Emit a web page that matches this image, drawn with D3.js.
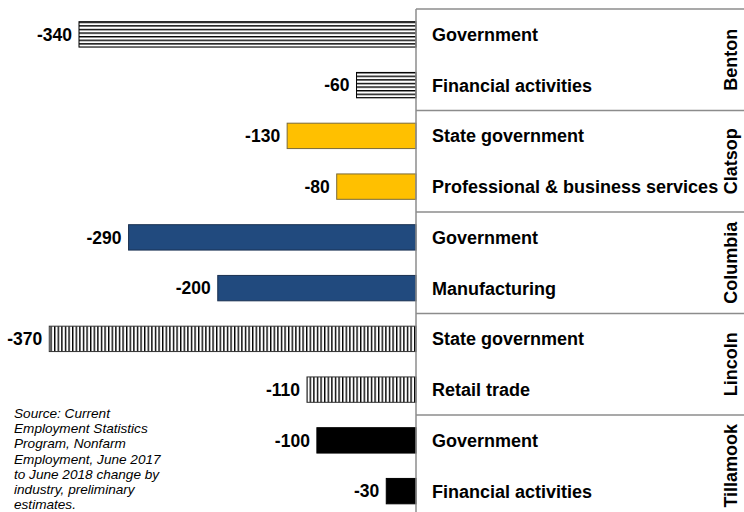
<!DOCTYPE html>
<html><head><meta charset="utf-8">
<script src="https://cdn.jsdelivr.net/npm/d3@7"></script>
<style>body{margin:0;background:#fff}svg{display:block}</style>
</head><body>
<svg id="c" width="744" height="512"></svg>
<script>
const counties = ["Benton","Clatsop","Columbia","Lincoln","Tillamook"];
const industries = ["Government","Financial activities","State government","Professional & business services","Government","Manufacturing","State government","Retail trade","Government","Financial activities"];
const countyOf = ["Benton","Benton","Clatsop","Clatsop","Columbia","Columbia","Lincoln","Lincoln","Tillamook","Tillamook"];
const values = [-340,-60,-130,-80,-290,-200,-370,-110,-100,-30];
const sourceLines = ["Source: Current","Employment Statistics","Program, Nonfarm","Employment, June 2017","to June 2018 change by","industry, preliminary","estimates."];

const svg = d3.select("#c");
const font = "'Liberation Sans', Arial, sans-serif";
const topY = 9, groupH = 101.5;
const x = d3.scaleLinear().domain([-340, 0]).range([79, 416]);
const idx = d3.range(values.length);
const y = d3.scaleBand().domain(idx).range([topY, topY + groupH * counties.length]).paddingInner(0.5).paddingOuter(0.25);
const gy = d3.scaleBand().domain(counties).range([topY, topY + groupH * counties.length]);

const defs = svg.append("defs");
const ph = defs.append("pattern").attr("id","hlines").attr("patternUnits","userSpaceOnUse").attr("width",4).attr("height",3.6);
ph.append("rect").attr("width",4).attr("height",3.6).attr("fill","#fff");
ph.append("rect").attr("y",0).attr("width",4).attr("height",1.4).attr("fill","#000");
const pv = defs.append("pattern").attr("id","vlines").attr("patternUnits","userSpaceOnUse").attr("width",3.6).attr("height",4);
pv.append("rect").attr("width",3.6).attr("height",4).attr("fill","#fff");
pv.append("rect").attr("x",0).attr("width",1.4).attr("height",4).attr("fill","#000");

const fills = {Benton:"url(#hlines)", Clatsop:"#FFC000", Columbia:"#214A7E", Lincoln:"url(#vlines)", Tillamook:"#000"};
const strokes = {Benton:"#000", Clatsop:"#7a6a3a", Columbia:"#1a3050", Lincoln:"#333", Tillamook:"#000"};

// bars
svg.append("g").selectAll("rect").data(idx).join("rect")
  .attr("x", i => x(values[i]))
  .attr("y", i => y(i))
  .attr("width", i => x(0) - x(values[i]))
  .attr("height", y.bandwidth())
  .attr("fill", i => fills[countyOf[i]])
  .attr("stroke", i => strokes[countyOf[i]])
  .attr("stroke-width", 1);

// value labels
svg.append("g").selectAll("text").data(idx).join("text")
  .attr("x", i => x(values[i]) - 7)
  .attr("y", i => y(i) + y.bandwidth()/2)
  .attr("dy","0.36em")
  .attr("text-anchor","end")
  .attr("font-family", font).attr("font-weight","bold").attr("font-size", 17.5)
  .attr("fill","#000")
  .text(i => values[i]);

// right panel lines
const panel = svg.append("g");
panel.append("line").attr("x1", x(0)).attr("x2", x(0)).attr("y1", topY).attr("y2", 512)
  .attr("stroke","#8c8c8c").attr("stroke-width",1.5);
panel.selectAll("line.sep").data(counties).join("line").attr("class","sep")
  .attr("x1", x(0)).attr("x2", 744)
  .attr("y1", d => gy(d)).attr("y2", d => gy(d))
  .attr("stroke","#8c8c8c").attr("stroke-width",1.5);

// industry labels
svg.append("g").selectAll("text").data(idx).join("text")
  .attr("x", 432)
  .attr("y", i => y(i) + y.bandwidth()/2)
  .attr("dy","0.36em")
  .attr("font-family", font).attr("font-weight","bold").attr("font-size", 18)
  .attr("fill","#000")
  .text(i => industries[i]);

// county labels
svg.append("g").selectAll("text").data(counties).join("text")
  .attr("transform", d => `translate(737,${gy(d) + gy.bandwidth()/2}) rotate(-90)`)
  .attr("text-anchor","middle")
  .attr("font-family", font).attr("font-weight","bold").attr("font-size", 18)
  .attr("fill","#000")
  .text(d => d);

// source
svg.append("g").selectAll("text").data(sourceLines).join("text")
  .attr("x", 14)
  .attr("y", (d,i) => 418 + i*15.2)
  .attr("font-family", font).attr("font-style","italic").attr("font-size", 13.6)
  .attr("fill","#000")
  .text(d => d);
</script>
</body></html>
